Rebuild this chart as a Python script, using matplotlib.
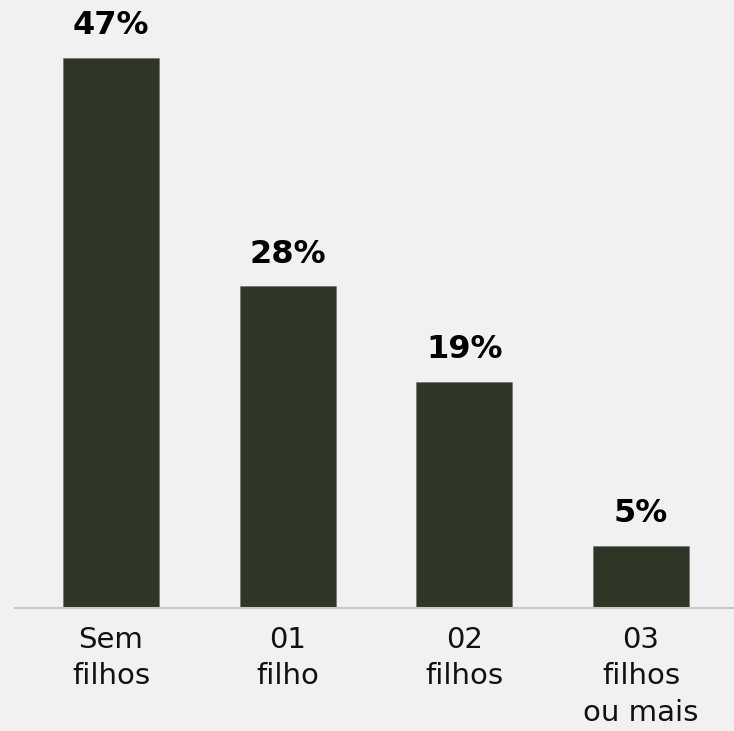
import matplotlib.pyplot as plt

# data (bar heights, labels as printed)
categories = ["Sem\nfilhos", "01\nfilho", "02\nfilhos", "03\nfilhos\nou mais"]
values = [47.0, 27.5, 19.3, 5.3]
value_labels = ["47%", "28%", "19%", "5%"]

bg = "#f1f1f1"
bar_color = "#303626"

plt.rcParams["font.family"] = ["DejaVu Sans"]

fig = plt.figure(figsize=(7.34, 7.31), dpi=100, facecolor=bg)
ax = fig.add_axes([15 / 734, (731 - 608) / 731, 719 / 734, 608 / 731])
ax.set_facecolor(bg)

x = range(len(categories))
ax.bar(x, values, width=0.543, color=bar_color, edgecolor="#6b6f62", linewidth=0.4)

for xi, v, lab in zip(x, values, value_labels):
    ax.annotate(lab, (xi, v), xytext=(0, 12), textcoords="offset points",
                ha="center", va="bottom", fontsize=23, fontweight="bold", color="black")

ax.set_xlim(-0.543, 3.526)
ax.set_ylim(0, 51.96)
ax.set_xticks(list(x))
ax.set_xticklabels(categories, fontsize=21, linespacing=1.38, color="#111111")
ax.tick_params(axis="x", length=0, pad=13)
ax.set_yticks([])

for s in ["top", "right", "left"]:
    ax.spines[s].set_visible(False)
ax.spines["bottom"].set_color("#c8c8c8")
ax.spines["bottom"].set_linewidth(1.5)

fig.savefig("out.png", dpi=100, facecolor=bg)
